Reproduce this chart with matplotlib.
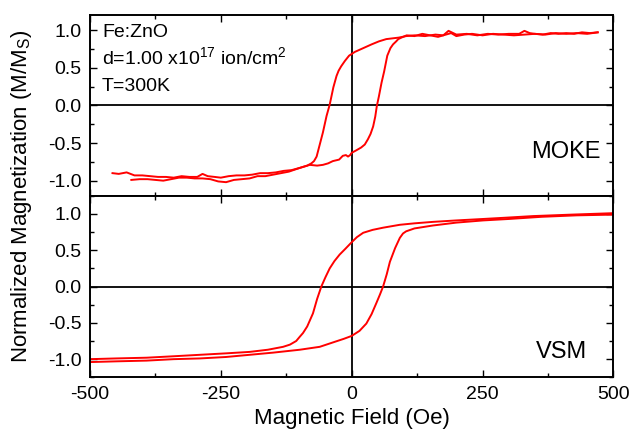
import numpy as np
import matplotlib
matplotlib.use("Agg")
import matplotlib.pyplot as plt
from matplotlib.ticker import MultipleLocator

plt.rcParams['font.family'] = ['Liberation Sans', 'DejaVu Sans']
plt.rcParams['axes.unicode_minus'] = False
plt.rcParams['mathtext.fontset'] = 'custom'
plt.rcParams['mathtext.rm'] = 'Liberation Sans'
plt.rcParams['mathtext.it'] = 'Liberation Sans'

# MOKE loop, descending branch (+H -> -H)
moke_dn_h = [470, 455, 440, 425, 410, 395, 380, 365, 350, 340, 330, 320, 300, 280, 260, 240, 220, 200,
             185, 175, 160, 140, 120, 104, 90, 78, 66, 52, 38, 22, 6, -5, -13, -20, -25, -29, -35,
             -42, -48, -55, -61, -67, -72, -77, -85, -99, -115, -130, -145, -160, -175, -190, -205,
             -220, -235, -250, -262, -275, -285, -295, -310, -325, -340, -355, -370, -385, -400,
             -415, -430, -445, -457]
moke_dn_m = [0.97, 0.96, 0.97, 0.95, 0.96, 0.95, 0.96, 0.94, 0.95, 0.96, 0.99, 0.95, 0.95, 0.94, 0.95,
             0.93, 0.95, 0.94, 0.99, 0.93, 0.94, 0.92, 0.93, 0.92, 0.90, 0.89, 0.88, 0.85, 0.81, 0.76,
             0.71, 0.66, 0.59, 0.52, 0.46, 0.39, 0.24, 0.01, -0.14, -0.36, -0.52, -0.68, -0.74, -0.77,
             -0.80, -0.83, -0.86, -0.87, -0.89, -0.90, -0.90, -0.92, -0.93, -0.93, -0.94, -0.96,
             -0.95, -0.94, -0.91, -0.95, -0.95, -0.94, -0.96, -0.95, -0.95, -0.94, -0.93, -0.93,
             -0.89, -0.91, -0.90]

# MOKE loop, ascending branch (-H -> +H)
moke_up_h = [-421, -405, -390, -375, -360, -345, -330, -315, -300, -285, -270, -255, -240, -225, -210,
             -195, -180, -165, -150, -135, -120, -99, -80, -66, -55, -45, -36, -24, -17, -11, -7, -3,
             0, 8, 18, 25, 31, 36, 41, 45, 48, 52, 57, 62, 68, 74, 79, 85, 89, 95, 105, 120, 135, 150,
             165, 180, 190, 200, 215, 230, 250, 270, 290, 310, 330, 350, 370, 390, 410, 430, 450, 470]
moke_up_m = [-0.99, -0.98, -0.98, -0.99, -1.00, -0.98, -0.96, -0.96, -0.97, -0.97, -0.98, -1.01, -1.02,
             -0.99, -0.98, -0.97, -0.94, -0.94, -0.92, -0.90, -0.88, -0.83, -0.79, -0.80, -0.79, -0.77,
             -0.74, -0.72, -0.67, -0.66, -0.68, -0.66, -0.63, -0.60, -0.56, -0.52, -0.45, -0.38, -0.28,
             -0.15, -0.01, 0.12, 0.30, 0.45, 0.66, 0.76, 0.81, 0.85, 0.88, 0.90, 0.93, 0.92, 0.95, 0.93,
             0.91, 0.94, 0.96, 0.92, 0.94, 0.95, 0.93, 0.95, 0.94, 0.93, 0.94, 0.95, 0.94, 0.96, 0.95,
             0.96, 0.95, 0.97]

# VSM loop, descending branch
vsm_dn_h = [500, 420, 347, 300, 251, 200, 155, 120, 92, 60, 40, 22, 10, 0, -12, -23, -33, -42, -50,
            -58, -66, -74, -85, -93, -99, -106, -118, -131, -160, -195, -240, -290, -340, -392, -450, -500]
vsm_dn_m = [1.01, 0.99, 0.97, 0.95, 0.93, 0.91, 0.89, 0.87, 0.85, 0.81, 0.78, 0.74, 0.68, 0.61, 0.52,
            0.44, 0.35, 0.25, 0.13, 0.0, -0.17, -0.37, -0.55, -0.64, -0.69, -0.75, -0.80, -0.83, -0.87,
            -0.90, -0.92, -0.94, -0.96, -0.98, -0.99, -1.00]

# VSM loop, ascending branch
vsm_up_h = [-500, -450, -392, -340, -290, -240, -195, -150, -99, -61, -36, -15, 0, 15, 28, 38, 47, 54,
            60, 67, 73, 83, 92, 98, 104, 120, 155, 200, 251, 300, 363, 430, 500]
vsm_up_m = [-1.04, -1.03, -1.02, -1.00, -0.99, -0.97, -0.94, -0.91, -0.87, -0.83, -0.77, -0.72, -0.68,
            -0.61, -0.51, -0.38, -0.23, -0.11, 0.0, 0.17, 0.34, 0.53, 0.67, 0.73, 0.76, 0.80, 0.84,
            0.88, 0.91, 0.93, 0.96, 0.98, 0.99]

fig = plt.figure(figsize=(6.31, 4.34), dpi=100)
ax1 = fig.add_axes([0.1426, 0.549, 0.8295, 0.4164])
ax2 = fig.add_axes([0.1426, 0.1306, 0.8295, 0.4184], sharex=ax1)

red = '#ff0000'
ax1.plot(moke_dn_h, moke_dn_m, color=red, lw=1.4)
ax1.plot(moke_up_h, moke_up_m, color=red, lw=1.4)
ax2.plot(vsm_dn_h, vsm_dn_m, color=red, lw=1.4)
ax2.plot(vsm_up_h, vsm_up_m, color=red, lw=1.4)

for ax in (ax1, ax2):
    ax.axhline(0, color='black', lw=1.3, zorder=1)
    ax.axvline(0, color='black', lw=1.3, zorder=1)
    ax.set_xlim(-500, 500)
    ax.xaxis.set_major_locator(MultipleLocator(250))
    ax.xaxis.set_minor_locator(MultipleLocator(125))
    ax.yaxis.set_major_locator(MultipleLocator(0.5))
    ax.yaxis.set_minor_locator(MultipleLocator(0.25))
    ax.tick_params(which='both', direction='in', top=True, right=True, labelsize=14, width=1.0)
    ax.tick_params(which='major', length=5, pad=6)
    ax.tick_params(which='minor', length=3)
    for s in ax.spines.values():
        s.set_linewidth(1.4)

ax1.set_ylim(-1.2, 1.2)
ax2.set_ylim(-1.25, 1.25)
ax1.tick_params(labelbottom=False)
ax1.set_yticks([-1.0, -0.5, 0.0, 0.5, 1.0])
ax2.set_yticks([-1.0, -0.5, 0.0, 0.5, 1.0])
ax1.yaxis.set_major_formatter(plt.FormatStrFormatter('%.1f'))
ax2.yaxis.set_major_formatter(plt.FormatStrFormatter('%.1f'))
ax2.set_xticks([-500, -250, 0, 250, 500])

ax1.text(0.023, 0.88, 'Fe:ZnO', transform=ax1.transAxes, fontsize=14, va='baseline')
ax1.text(0.023, 0.729, 'd=1.00 x10$^{17}$ ion/cm$^{2}$', transform=ax1.transAxes, fontsize=14, va='baseline')
ax1.text(0.023, 0.582, 'T=300K', transform=ax1.transAxes, fontsize=14, va='baseline')
ax1.text(0.975, 0.208, 'MOKE', transform=ax1.transAxes, fontsize=17, va='baseline', ha='right')
ax2.text(0.949, 0.105, 'VSM', transform=ax2.transAxes, fontsize=17, va='baseline', ha='right')

ax2.set_xlabel('Magnetic Field (Oe)', fontsize=16, labelpad=4)
fig.text(0.034, 0.548, 'Normalized Magnetization (M/M$_{\\mathrm{S}}$)', rotation=90,
         fontsize=16, ha='center', va='center')

fig.savefig('out.png', dpi=100)
